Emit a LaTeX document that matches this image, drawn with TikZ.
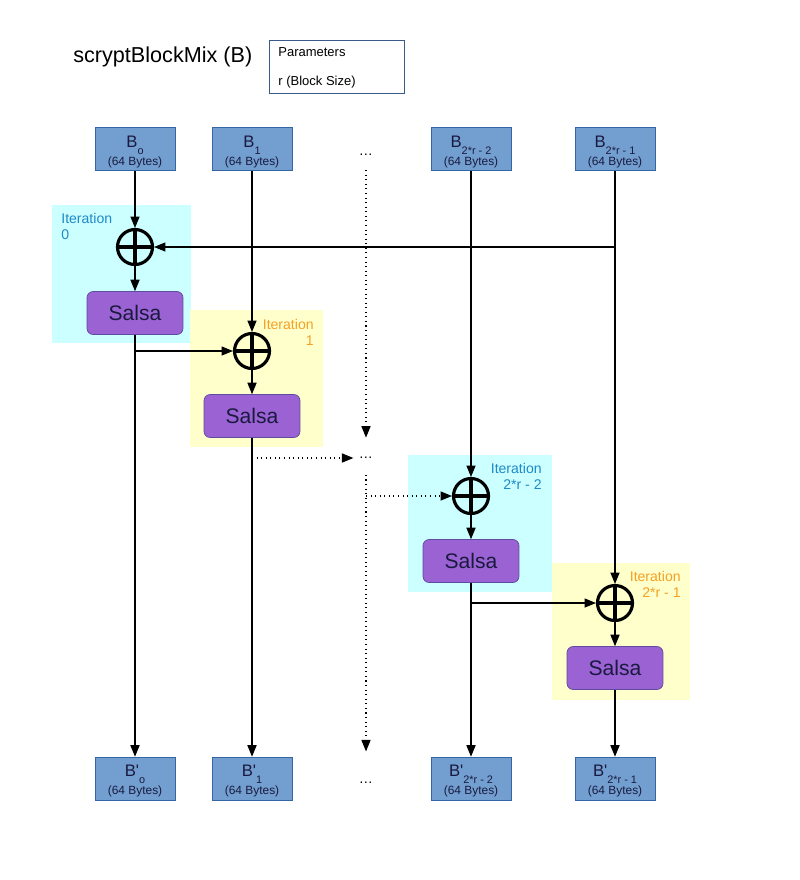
\documentclass[tikz,border=0pt]{standalone}
\usepackage{fontspec}
\setmainfont{Liberation Sans}
\usetikzlibrary{arrows.meta}

\definecolor{blockblue}{HTML}{729FCF}
\definecolor{blockborder}{HTML}{3465A4}
\definecolor{salsapurple}{HTML}{9A62D2}
\definecolor{salsaborder}{HTML}{5E4A9E}
\definecolor{salsatext}{HTML}{1A1A40}
\definecolor{cyanbg}{HTML}{CCFFFF}
\definecolor{yellowbg}{HTML}{FFFFCC}
\definecolor{iterblue}{HTML}{1E8AC8}
\definecolor{iterorange}{HTML}{F5A023}
\definecolor{parborder}{HTML}{3A5A8A}

% block label: letter, subscript, size line
\newcommand{\blk}[2]{\rule{0pt}{9.5pt}{\fontsize{9.5}{10.2}\selectfont #1}\raisebox{-4pt}{\fontsize{6.2}{6.5}\selectfont #2}\\{(64 Bytes)}}

\begin{document}
\begin{tikzpicture}[x=0.02cm, y=-0.02cm, >={Triangle[length=6.5pt,width=5.2pt]}]

	% Define custom styles
	\tikzstyle{block} = [rectangle, draw=blockborder, fill=blockblue, minimum width=1.6cm, minimum height=0.86cm,
	inner sep=0pt, align=center, font=\fontsize{6.8}{10.2}\selectfont, text=salsatext]
	\tikzstyle{salsa} = [rectangle, rounded corners=3.5pt, draw=salsaborder, fill=salsapurple, minimum width=1.92cm,
	minimum height=0.86cm, font=\fontsize{12}{12}\selectfont, text=salsatext]
	\tikzstyle{xorop} = [circle, draw, line width=1.8pt, minimum size=0.7cm, inner sep=0pt,
	path picture={\draw[line width=1.8pt] (path picture bounding box.north) -- (path picture bounding box.south)
		(path picture bounding box.west) -- (path picture bounding box.east);}]
	\tikzstyle{iterbox} = [rectangle, inner sep=0pt, minimum height=2.74cm]
	\tikzstyle{iterlabel} = [inner sep=0pt, font=\fontsize{8}{9.2}\selectfont]
	\tikzstyle{conn} = [->, line width=0.6pt]
	\tikzstyle{gap} = [inner sep=3pt, font=\fontsize{8}{8}\selectfont]

	\fill[white] (0,0) rectangle (800,880);
	\useasboundingbox (0,0) rectangle (800,880);

	% Title and parameters
	\node[anchor=base west, inner sep=0pt, font=\fontsize{12.3}{14}\selectfont] (title) at (73,62.5) {scryptBlockMix (B)};
	\node[draw=parborder, line width=0.5pt, minimum width=2.7cm, minimum height=1.06cm] (params) at (336.5,66.5) {};
	\node[anchor=base west, inner sep=0pt, font=\fontsize{7.4}{9}\selectfont] (ptitle) at (278,56) {Parameters};
	\node[anchor=base west, inner sep=0pt, font=\fontsize{7.4}{9}\selectfont] (psize) at (278,85) {r (Block Size)};

	% Iteration backgrounds
	\node[iterbox, fill=cyanbg, minimum width=2.78cm, minimum height=2.76cm] (it0) at (121.5,274) {};
	\node[iterbox, fill=yellowbg, minimum width=2.66cm] (it1) at (256.5,378.5) {};
	\node[iterbox, fill=cyanbg, minimum width=2.88cm] (it2) at (480,523.5) {};
	\node[iterbox, fill=yellowbg, minimum width=2.76cm] (it3) at (621,631.5) {};

	\node[iterlabel, text=iterblue, anchor=north west, align=left] (lab0) at (61,213) {Iteration\\0};
	\node[iterlabel, text=iterorange, anchor=north east, align=right] (lab1) at (314,319) {Iteration\\1};
	\node[iterlabel, text=iterblue, anchor=north east, align=right] (lab2) at (542,463) {Iteration\\2*r - 2};
	\node[iterlabel, text=iterorange, anchor=north east, align=right] (lab3) at (681,571) {Iteration\\2*r - 1};

	% Input blocks
	\node[block] (bin0) at (135,149) {\blk{B}{o}};
	\node[block] (bin1) at (252,149) {\blk{B}{1}};
	\node[block] (bin2) at (471,149) {\blk{B}{2*r - 2}};
	\node[block] (bin3) at (615,149) {\blk{B}{2*r - 1}};

	% Output blocks
	\node[block] (bout0) at (135,778.5) {\blk{B\textquotesingle}{o}};
	\node[block] (bout1) at (252,778.5) {\blk{B\textquotesingle}{1}};
	\node[block] (bout2) at (471,778.5) {\blk{B\textquotesingle}{2*r - 2}};
	\node[block] (bout3) at (615,778.5) {\blk{B\textquotesingle}{2*r - 1}};

	% Elided columns
	\node[gap] (dtop) at (366,155) {\dots};
	\node[gap] (dmid) at (366,458) {\dots};
	\node[gap] (dbot) at (366,783) {\dots};

	% XOR and Salsa per iteration
	\node[xorop] (xor0) at (135,247) {};
	\node[salsa] (salsa0) at (135,313) {Salsa};
	\node[xorop] (xor1) at (252,351) {};
	\node[salsa] (salsa1) at (252,416) {Salsa};
	\node[xorop] (xor2) at (471,496) {};
	\node[salsa] (salsa2) at (471,561) {Salsa};
	\node[xorop] (xor3) at (615,603) {};
	\node[salsa] (salsa3) at (615,668) {Salsa};

	% Straight links down each column
	\draw[conn] (bin0) -- (xor0);
	\draw[conn] (xor0) -- (salsa0);
	\draw[conn] (salsa0) -- (bout0);
	\draw[conn] (bin1) -- (xor1);
	\draw[conn] (xor1) -- (salsa1);
	\draw[conn] (salsa1) -- (bout1);
	\draw[conn] (bin2) -- (xor2);
	\draw[conn] (xor2) -- (salsa2);
	\draw[conn] (salsa2) -- (bout2);
	\draw[conn] (bin3) -- (xor3);
	\draw[conn] (xor3) -- (salsa3);
	\draw[conn] (salsa3) -- (bout3);

	% Links into the next iteration
	\draw[conn] (bin3 |- xor0) -- (xor0);
	\draw[conn] (salsa0 |- xor1) -- (xor1);
	\draw[conn, dotted] (salsa1 |- dmid) -- (dmid.west);
	\draw[conn, dotted] (dmid |- xor2) -- (xor2);
	\draw[conn] (salsa2 |- xor3) -- (xor3);

	% Dotted links for the elided columns
	\draw[conn, dotted, shorten <=5pt, shorten >=8pt] (dtop) -- (dmid);
	\draw[conn, dotted, shorten <=6pt, shorten >=3pt] (dmid) -- (dbot |- bout0.north);

\end{tikzpicture}
\end{document}
